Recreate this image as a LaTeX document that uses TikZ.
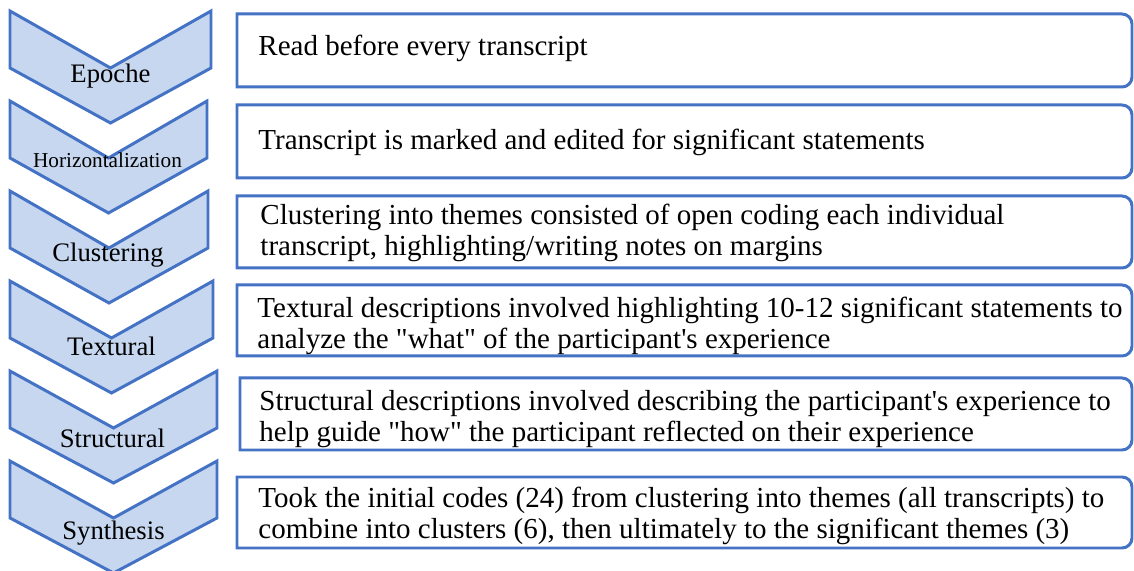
\documentclass[tikz,border=0pt]{standalone}
\usepackage{fontspec}
\setmainfont{Liberation Serif}
\usetikzlibrary{arrows.meta}
\definecolor{stepblue}{HTML}{4472C4}
\definecolor{stepfill}{HTML}{C6D7EF}

\begin{document}
\begin{tikzpicture}[x=0.02cm,y=0.02cm,line width=1.7pt,
  chevron/.style={draw=stepblue,fill=stepfill,line join=miter},
  descbox/.style={draw=stepblue,line join=miter},
  steplabel/.style={anchor=base,inner sep=0pt,font=\fontsize{15.2pt}{17pt}\selectfont},
  desctext/.style={anchor=west,inner sep=0pt,align=left,font=\fontsize{16.5pt}{17.2pt}\selectfont}]
  \useasboundingbox (0,0) rectangle (1134,571);
  % chevrons (fase del analisis)
  \draw[chevron] (10,560) -- (110.5,503) -- (211,560) -- (211,503) -- (110.5,448) -- (10,503) -- cycle;
  \draw[chevron] (10,470) -- (108.5,413) -- (207,470) -- (207,413) -- (108.5,358) -- (10,413) -- cycle;
  \draw[chevron] (10,380) -- (109,323) -- (208,380) -- (208,323) -- (109,268) -- (10,323) -- cycle;
  \draw[chevron] (10,290) -- (111.5,233) -- (213,290) -- (213,233) -- (111.5,178) -- (10,233) -- cycle;
  \draw[chevron] (10,200) -- (113.5,143) -- (217,200) -- (217,143) -- (113.5,88) -- (10,143) -- cycle;
  \draw[chevron] (10,110) -- (113.5,53) -- (217,110) -- (217,53) -- (113.5,-2) -- (10,53) -- cycle;
  \node[steplabel] (epoche) at (110.5,488){Epoche};
  \node[steplabel,font=\fontsize{12.1pt}{14pt}\selectfont] (horiz) at (107.5,403){Horizontalization};
  \node[steplabel] (cluster) at (108,309){Clustering};
  \node[steplabel] (textural) at (111.5,215){Textural};
  \node[steplabel] (structural) at (112.5,123){Structural};
  \node[steplabel] (synthesis) at (113.5,31){Synthesis};
  % cajas de descripcion (esquinas derechas redondeadas)
  \draw[descbox] (237,557) -- (1122,557) arc[start angle=90,end angle=0,radius=10] -- (1132,494) arc[start angle=0,end angle=-90,radius=10] -- (237,484) -- cycle;
  \draw[descbox] (237,466) -- (1122,466) arc[start angle=90,end angle=0,radius=10] -- (1132,403) arc[start angle=0,end angle=-90,radius=10] -- (237,393) -- cycle;
  \draw[descbox] (237,375) -- (1122,375) arc[start angle=90,end angle=0,radius=10] -- (1132,313) arc[start angle=0,end angle=-90,radius=10] -- (237,303) -- cycle;
  \draw[descbox] (237,286) -- (1122,286) arc[start angle=90,end angle=0,radius=10] -- (1132,225) arc[start angle=0,end angle=-90,radius=10] -- (237,215) -- cycle;
  \draw[descbox] (240,193) -- (1122,193) arc[start angle=90,end angle=0,radius=10] -- (1132,131) arc[start angle=0,end angle=-90,radius=10] -- (240,121) -- cycle;
  \draw[descbox] (237,94) -- (1122,94) arc[start angle=90,end angle=0,radius=10] -- (1132,33) arc[start angle=0,end angle=-90,radius=10] -- (237,23) -- cycle;
  \node[desctext] (epochetxt) at (257,523){Read before every transcript};
  \node[desctext] (horiztxt) at (257,429){Transcript is marked and edited for significant statements};
  \node[desctext] (clustertxt) at (259,338){Clustering into themes consisted of open coding each individual\\transcript, highlighting/writing notes on margins};
  \node[desctext] (texturaltxt) at (256,245){Textural descriptions involved highlighting 10-12 significant statements to\\analyze the \textquotedbl what\textquotedbl{} of the participant\textquotesingle s experience};
  \node[desctext] (structuraltxt) at (258,152){Structural descriptions involved describing the participant\textquotesingle s experience to\\help guide \textquotedbl how\textquotedbl{} the participant reflected on their experience};
  \node[desctext] (synthesistxt) at (257,55){Took the initial codes (24) from clustering into themes (all transcripts) to\\combine into clusters (6), then ultimately to the significant themes (3)};
\end{tikzpicture}
\end{document}
